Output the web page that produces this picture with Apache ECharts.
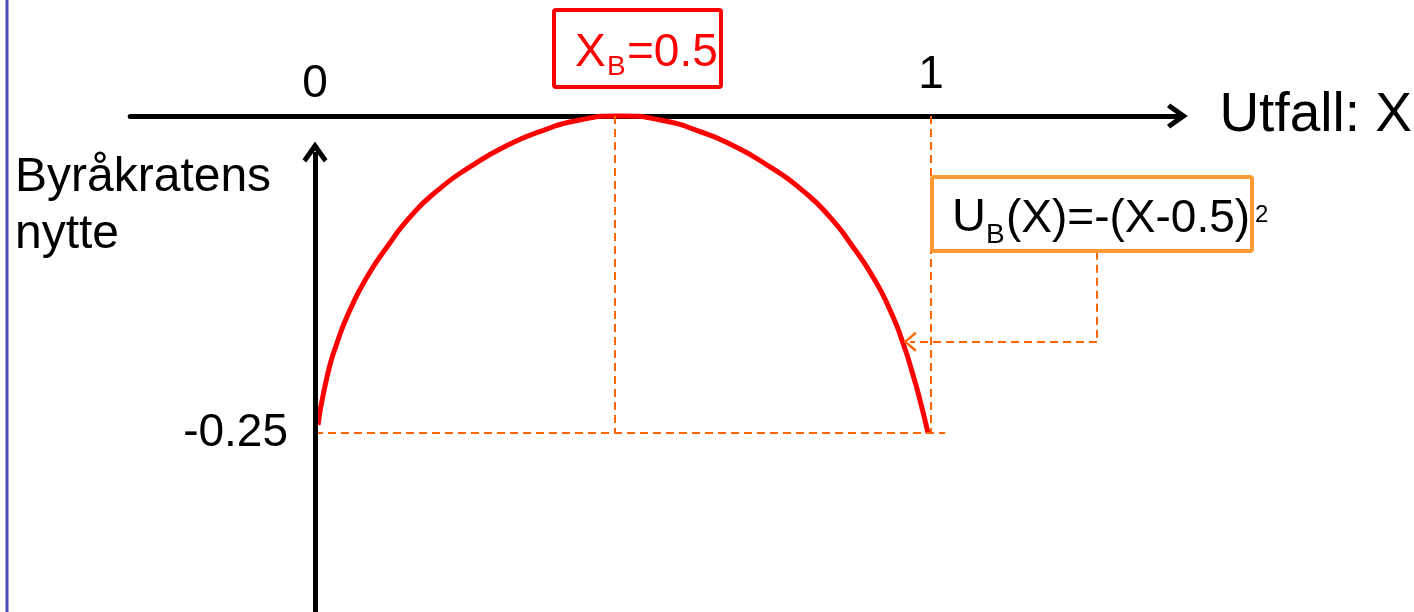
<!DOCTYPE html>
<html>
	<head>
		<meta charset="utf-8" />
		<title>Byråkratens nytte</title>
		<script src="https://cdn.jsdelivr.net/npm/echarts@6/dist/echarts.min.js"></script>
		<style>
			* {
				margin: 0;
				padding: 0;
				box-sizing: border-box;
			}
			body {
				background: #fff;
			}
		</style>
	</head>
	<body>
		<div id="main" style="width: 1414px; height: 612px"></div>
		<script>
			// kurvens punkter
			var curveX = [0.0049, 0.0195, 0.0357, 0.0568, 0.0844, 0.1169, 0.1542, 0.1981, 0.2516, 0.3166, 0.3685, 0.4221, 0.4951, 0.5682, 0.6218, 0.6737, 0.7386, 0.7922, 0.836, 0.8734, 0.9058, 0.9334, 0.9545, 0.9708, 0.9821, 0.9951];
			var curveY = [-0.2437, -0.2058, -0.179, -0.153, -0.127, -0.1033, -0.0797, -0.0591, -0.0402, -0.0221, -0.0118, -0.0039, 0, -0.0039, -0.0118, -0.0221, -0.0402, -0.0591, -0.0797, -0.1033, -0.127, -0.153, -0.179, -0.2043, -0.224, -0.25];
			var xTicks = [0, 1];
			var yTicks = [-0.25];
			var xB = 0.487;
			var uMin = -0.25;
			// hjelpelinjen fra formelboksen ned til kurven
			var pointerX = [1.2695, 0.966];
			var pointerY = [-0.107, -0.178];

			var FONT = 'Liberation Sans, Arial, sans-serif';
			var chevron = 'path://M12,0 L24,17 L20.5,20 L12,8.5 L3.5,20 L0,17 Z';
			var thinChevron = 'path://M10,0 L20,12 L18,13.5 L10,3.5 L2,13.5 L0,12 Z';

			var myChart = echarts.init(document.getElementById('main'));

			var curveData = curveX.map(function (x, i) {
				return [x, curveY[i]];
			});

			var dashStyle = {color: '#ff6600', width: 2, type: [8, 5]};

			// tekstbit til formelboksene
			function txt(s, x, y, size, color, z) {
				return {
					type: 'text',
					x: x,
					y: y,
					z: z || 12,
					style: {text: s, font: size + 'px ' + FONT, fill: color, align: 'left', verticalAlign: 'bottom'},
				};
			}

			var option = {
				animation: false,
				textStyle: {fontFamily: FONT},
				grid: {
					left: 130.2,
					top: 116,
					width: 1047.2,
					height: 500.9,
					containLabel: false,
					outerBoundsMode: 'none',
				},
				xAxis: {
					type: 'value',
					position: 'top',
					min: -0.3,
					max: 1.4,
					name: 'Utfall: X',
					nameLocation: 'end',
					nameGap: 42,
					nameTextStyle: {fontSize: 55, color: '#000', fontFamily: FONT, padding: [0, 0, 6, 0]},
					axisLine: {
						onZero: false,
						lineStyle: {color: '#000', width: 5},
						symbol: ['none', chevron],
						symbolSize: [25, 21],
					},
					axisTick: {show: false},
					splitLine: {show: false},
					axisLabel: {
						customValues: xTicks,
						margin: 9,
						color: '#000',
						formatter: function (v) {
							return v === 1 ? '{hi|1}' : '{lo|' + v + '}';
						},
						rich: {
							lo: {fontSize: 46, lineHeight: 46, color: '#000', fontFamily: FONT},
							hi: {fontSize: 46, lineHeight: 46, color: '#000', fontFamily: FONT, padding: [0, 0, 18, 0]},
						},
					},
				},
				yAxis: {
					type: 'value',
					min: -0.395,
					max: 0,
					// flytt aksen til x = 0
					offset: -184.8,
					axisLine: {show: false, onZero: false},
					axisTick: {show: false},
					splitLine: {show: false},
					axisLabel: {
						customValues: yTicks,
						margin: 27,
						fontSize: 46,
						color: '#000',
						fontFamily: FONT,
						padding: [0, 0, 8, 0],
					},
				},
				graphic: [
					{type: 'line', shape: {x1: 7, y1: 0, x2: 7, y2: 612}, style: {stroke: '#4d4dbf', lineWidth: 3}},
					{
						type: 'text',
						x: 15,
						y: 149,
						style: {text: 'Byråkratens\nnytte', font: '48px ' + FONT, fill: '#000', lineHeight: 57},
					},
					{
						type: 'rect',
						shape: {x: 554, y: 10, width: 167, height: 77, r: 2},
						style: {fill: 'none', stroke: '#ff0000', lineWidth: 4},
					},
					txt('X', 575, 76, 46, '#ff0000'),
					txt('B', 607, 81, 28, '#ff0000'),
					txt('=0.5', 627, 76, 46, '#ff0000'),
					{
						type: 'rect',
						shape: {x: 932, y: 177, width: 320, height: 74, r: 2},
						style: {fill: '#fff', stroke: '#ff9933', lineWidth: 4},
						z: 10,
					},
					txt('U', 952, 242, 47, '#000'),
					txt('B', 986, 249, 28, '#000'),
					txt('(X)=-(X-0.5)', 1006, 242, 46, '#000'),
					txt('2', 1255, 227, 24, '#000'),
				],
				series: [
					{
						name: 'U_B',
						type: 'line',
						data: curveData,
						smooth: 0.6,
						symbol: 'none',
						clip: false,
						z: 3,
						lineStyle: {color: '#ff0000', width: 5},
					},
					{
						// hjelpelinjer
						type: 'line',
						data: [],
						z: 2,
						markLine: {
							silent: true,
							symbol: ['none', 'none'],
							label: {show: false},
							lineStyle: dashStyle,
							data: [
								[{coord: [xB, 0]}, {coord: [xB, uMin]}],
								[{coord: [xTicks[1], 0]}, {coord: [xTicks[1], uMin]}],
								[{coord: [0, uMin]}, {coord: [1.023, uMin]}],
								[{coord: [pointerX[0], pointerY[0]]}, {coord: [pointerX[0], pointerY[1]]}],
								[
									{coord: [pointerX[0], pointerY[1]]},
									{coord: [pointerX[1], pointerY[1]], symbol: thinChevron, symbolSize: [20, 13]},
								],
							],
						},
					},
					{
						// y-aksen med pil
						type: 'line',
						data: [],
						z: 4,
						markLine: {
							silent: true,
							symbol: ['none', 'none'],
							label: {show: false},
							lineStyle: {color: '#000', width: 5, type: 'solid'},
							data: [[{coord: [0, -0.395]}, {coord: [0, -0.0284], symbol: chevron, symbolSize: [25, 21]}]],
						},
					},
				],
			};

			option && myChart.setOption(option);
		</script>
	</body>
</html>
